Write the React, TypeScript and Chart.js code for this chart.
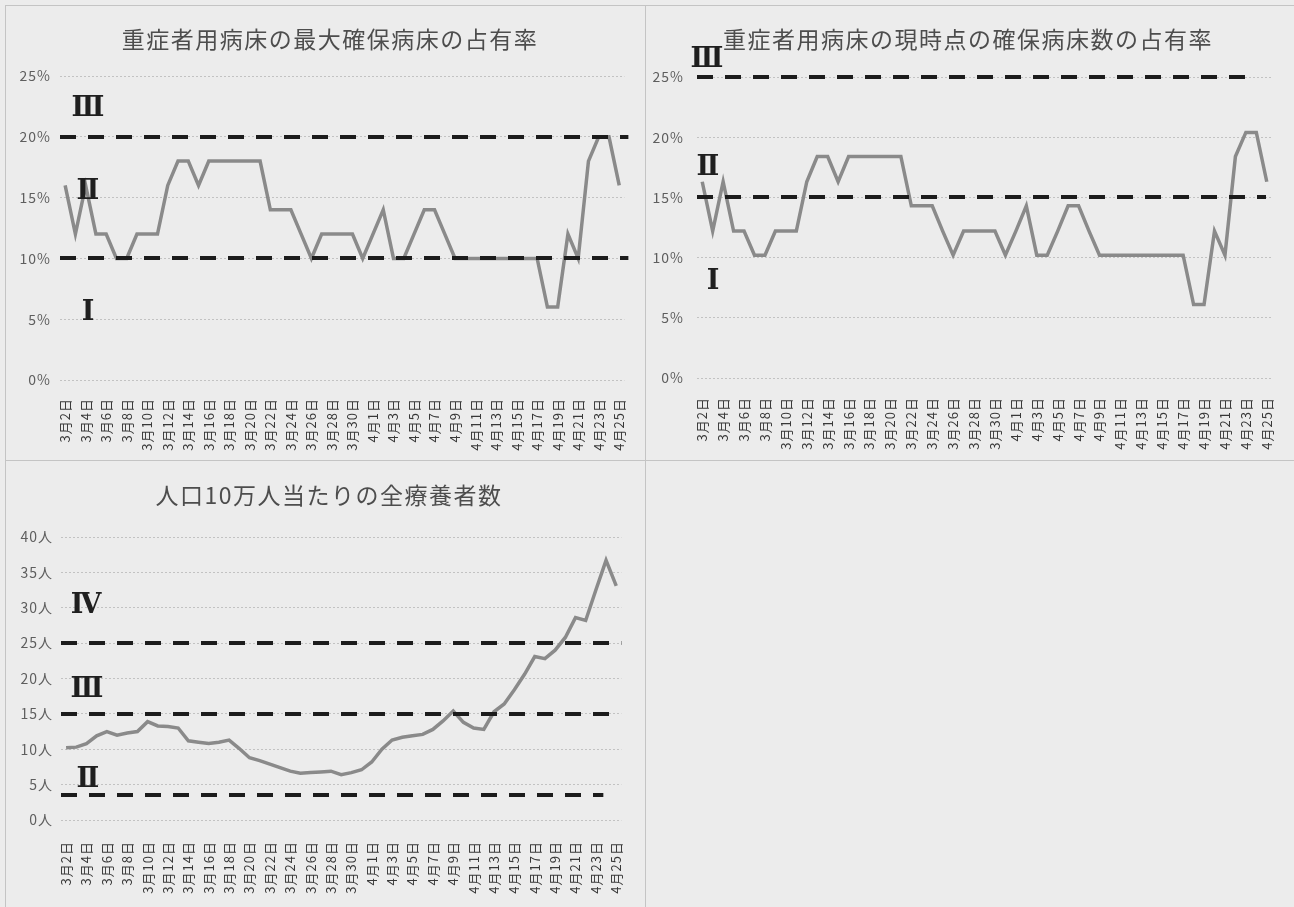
import { useEffect, useRef } from 'react';
import { Chart, registerables, Plugin } from 'chart.js';

Chart.register(...registerables);

// 3/2 - 4/25, one point per day
const DATES = [
  '3月2日', '3月3日', '3月4日', '3月5日', '3月6日', '3月7日', '3月8日', '3月9日', '3月10日', '3月11日',
  '3月12日', '3月13日', '3月14日', '3月15日', '3月16日', '3月17日', '3月18日', '3月19日', '3月20日', '3月21日',
  '3月22日', '3月23日', '3月24日', '3月25日', '3月26日', '3月27日', '3月28日', '3月29日', '3月30日', '3月31日',
  '4月1日', '4月2日', '4月3日', '4月4日', '4月5日', '4月6日', '4月7日', '4月8日', '4月9日', '4月10日',
  '4月11日', '4月12日', '4月13日', '4月14日', '4月15日', '4月16日', '4月17日', '4月18日', '4月19日', '4月20日',
  '4月21日', '4月22日', '4月23日', '4月24日', '4月25日',
];

// 重症者用病床の最大確保病床の占有率 (%)
const MAX_BED_RATE = [
  16, 12, 16, 12, 12, 10, 10, 12, 12, 12,
  16, 18, 18, 16, 18, 18, 18, 18, 18, 18,
  14, 14, 14, 12, 10, 12, 12, 12, 12, 10,
  12, 14, 10, 10, 12, 14, 14, 12, 10, 10,
  10, 10, 10, 10, 10, 10, 10, 6, 6, 12,
  10, 18, 20, 20, 16,
];

// 重症者用病床の現時点の確保病床数の占有率 (%)
const CUR_BED_RATE = [
  16.3, 12.2, 16.3, 12.2, 12.2, 10.2, 10.2, 12.2, 12.2, 12.2,
  16.3, 18.4, 18.4, 16.3, 18.4, 18.4, 18.4, 18.4, 18.4, 18.4,
  14.3, 14.3, 14.3, 12.2, 10.2, 12.2, 12.2, 12.2, 12.2, 10.2,
  12.2, 14.3, 10.2, 10.2, 12.2, 14.3, 14.3, 12.2, 10.2, 10.2,
  10.2, 10.2, 10.2, 10.2, 10.2, 10.2, 10.2, 6.1, 6.1, 12.2,
  10.2, 18.4, 20.4, 20.4, 16.3,
];

// 人口10万人当たりの全療養者数 (人)
const PATIENTS_PER_100K = [
  10.2, 10.3, 10.8, 11.9, 12.5, 12.0, 12.3, 12.5, 13.9, 13.3,
  13.2, 13.0, 11.2, 11.0, 10.8, 11.0, 11.3, 10.1, 8.8, 8.4,
  7.9, 7.4, 6.9, 6.6, 6.7, 6.8, 6.9, 6.4, 6.7, 7.1,
  8.2, 10.0, 11.3, 11.7, 11.9, 12.1, 12.8, 14.0, 15.4, 13.8,
  13.0, 12.8, 15.3, 16.4, 18.4, 20.6, 23.1, 22.8, 24.0, 25.8,
  28.6, 28.2, 32.5, 36.7, 33.1,
];

// stage boundaries (dashed lines)
const MAX_BED_STAGES = [20, 10];
const CUR_BED_STAGES = [25, 15];
const PATIENT_STAGES = [25, 15, 3.5];

interface StageLine {
  value: number;
  endInset: number;
}

const stagePlugin: Plugin<'line'> = {
  id: 'stages',
  afterDatasetsDraw(chart, _args, opts: any) {
    const { ctx, chartArea } = chart;
    const y = chart.scales.y;
    ctx.save();
    ctx.strokeStyle = '#1c1c1c';
    ctx.lineWidth = 4;
    ctx.setLineDash([16, 12]);
    (opts.lines as StageLine[]).forEach(l => {
      const py = Math.round(y.getPixelForValue(l.value));
      ctx.beginPath();
      ctx.moveTo(chartArea.left, py);
      ctx.lineTo(chartArea.right - l.endInset, py);
      ctx.stroke();
    });
    ctx.restore();
  },
};

// wider spacing for the vertical date labels
const spacingPlugin: Plugin<'line'> = {
  id: 'tickSpacing',
  beforeDraw(chart) {
    (chart.ctx as any).letterSpacing = '1px';
  },
  afterDraw(chart) {
    (chart.ctx as any).letterSpacing = '0px';
  },
};

interface PanelProps {
  values: number[];
  stages: StageLine[];
  yMax: number;
  unit: string;
  left: number;
  top: number;
  width: number;
  height: number;
  padTop: number;
  padRight: number;
  yWidth: number;
  yPad: number;
  xHeight: number;
  xPad: number;
}

function Panel(p: PanelProps) {
  const canvasRef = useRef<HTMLCanvasElement | null>(null);

  useEffect(() => {
    if (!canvasRef.current) return;
    const chart = new Chart(canvasRef.current, {
      type: 'line',
      data: {
        labels: DATES,
        datasets: [
          {
            data: p.values,
            borderColor: '#8a8a8a',
            borderWidth: 3.5,
            pointRadius: 0,
            tension: 0,
            fill: false,
          },
        ],
      },
      options: {
        responsive: false,
        animation: false,
        layout: { padding: { top: p.padTop, right: p.padRight, bottom: 0, left: 0 } },
        scales: {
          x: {
            offset: true,
            grid: { display: false },
            border: { display: false },
            afterFit: scale => {
              scale.height = p.xHeight;
            },
            ticks: {
              autoSkip: false,
              maxRotation: 90,
              minRotation: 90,
              padding: p.xPad,
              color: '#383838',
              font: { family: '"Noto Sans CJK JP", sans-serif', size: 13 },
              callback: (_v, i) => (i % 2 === 0 ? DATES[i] : ''),
            },
          },
          y: {
            min: 0,
            max: p.yMax,
            afterFit: scale => {
              scale.width = p.yWidth;
            },
            grid: { color: '#c2c2c2', lineWidth: 1, drawTicks: false },
            border: { display: false, dash: [2, 2] },
            ticks: {
              stepSize: 5,
              padding: p.yPad,
              color: '#5e5e5e',
              font: { family: '"Liberation Sans Narrow", "Noto Sans CJK JP", sans-serif', size: 14 },
              callback: v => `${v}${p.unit}`,
            },
          },
        },
        plugins: {
          legend: { display: false },
          tooltip: { enabled: false },
          stages: { lines: p.stages },
        } as any,
      },
      plugins: [stagePlugin, spacingPlugin],
    });
    return () => chart.destroy();
  }, [p]);

  return (
    <canvas
      ref={canvasRef}
      width={p.width}
      height={p.height}
      style={{ position: 'absolute', left: p.left, top: p.top, width: p.width, height: p.height }}
    />
  );
}

const titleStyle = (x: number, y: number): React.CSSProperties => ({
  position: 'absolute',
  left: x,
  top: y,
  transform: 'translate(-50%, -50%)',
  whiteSpace: 'nowrap',
  fontFamily: '"Noto Sans CJK JP", sans-serif',
  fontSize: 23,
  letterSpacing: 1.5,
  lineHeight: 1,
  color: '#4d4d4d',
});

const romanStyle = (x: number, y: number): React.CSSProperties => ({
  position: 'absolute',
  left: x,
  top: y,
  transform: 'translate(-50%, -50%)',
  fontFamily: '"DejaVu Serif", "Liberation Serif", "Noto Sans CJK JP", serif',
  fontSize: 27,
  fontWeight: 'bold',
  lineHeight: 1,
  color: '#1f1f1f',
});

const line = (s: React.CSSProperties): React.CSSProperties => ({
  position: 'absolute',
  background: '#c4c4c4',
  ...s,
});

export default function App() {
  return (
    <div style={{ position: 'fixed', inset: 0, background: '#ececec', overflow: 'hidden' }}>
      <div style={line({ left: 5, top: 5, width: 1289, height: 1 })} />
      <div style={line({ left: 5, top: 5, width: 1, height: 902 })} />
      <div style={line({ left: 645, top: 5, width: 1, height: 902 })} />
      <div style={line({ left: 5, top: 460, width: 1289, height: 1 })} />

      <Panel
        values={MAX_BED_RATE}
        stages={MAX_BED_STAGES.map(v => ({ value: v, endInset: -4 }))}
        yMax={25}
        unit="%"
        left={5}
        top={5}
        width={640}
        height={455}
        padTop={71}
        padRight={17}
        yWidth={55}
        yPad={9}
        xHeight={80}
        xPad={10}
      />
      <Panel
        values={CUR_BED_RATE}
        stages={[
          { value: CUR_BED_STAGES[0], endInset: 19 },
          { value: CUR_BED_STAGES[1], endInset: 6 },
        ]}
        yMax={25}
        unit="%"
        left={645}
        top={5}
        width={649}
        height={455}
        padTop={72}
        padRight={22}
        yWidth={52}
        yPad={13}
        xHeight={82}
        xPad={11}
      />
      <Panel
        values={PATIENTS_PER_100K}
        stages={[
          { value: PATIENT_STAGES[0], endInset: 0 },
          { value: PATIENT_STAGES[1], endInset: 2 },
          { value: PATIENT_STAGES[2], endInset: 18 },
        ]}
        yMax={40}
        unit="人"
        left={5}
        top={460}
        width={640}
        height={447}
        padTop={77}
        padRight={17}
        yWidth={56}
        yPad={8}
        xHeight={87}
        xPad={13}
      />

      <div style={titleStyle(330, 38)}>重症者用病床の最大確保病床の占有率</div>
      <div style={titleStyle(968, 38)}>重症者用病床の現時点の確保病床数の占有率</div>
      <div style={titleStyle(329, 494)}>人口10万人当たりの全療養者数</div>

      <div style={romanStyle(88, 106)}>Ⅲ</div>
      <div style={romanStyle(88, 189)}>Ⅱ</div>
      <div style={romanStyle(88, 310)}>Ⅰ</div>

      <div style={romanStyle(707, 57)}>Ⅲ</div>
      <div style={romanStyle(708, 165)}>Ⅱ</div>
      <div style={romanStyle(713, 279)}>Ⅰ</div>

      <div style={romanStyle(86, 603)}>Ⅳ</div>
      <div style={romanStyle(87, 687)}>Ⅲ</div>
      <div style={romanStyle(88, 777)}>Ⅱ</div>
    </div>
  );
}
